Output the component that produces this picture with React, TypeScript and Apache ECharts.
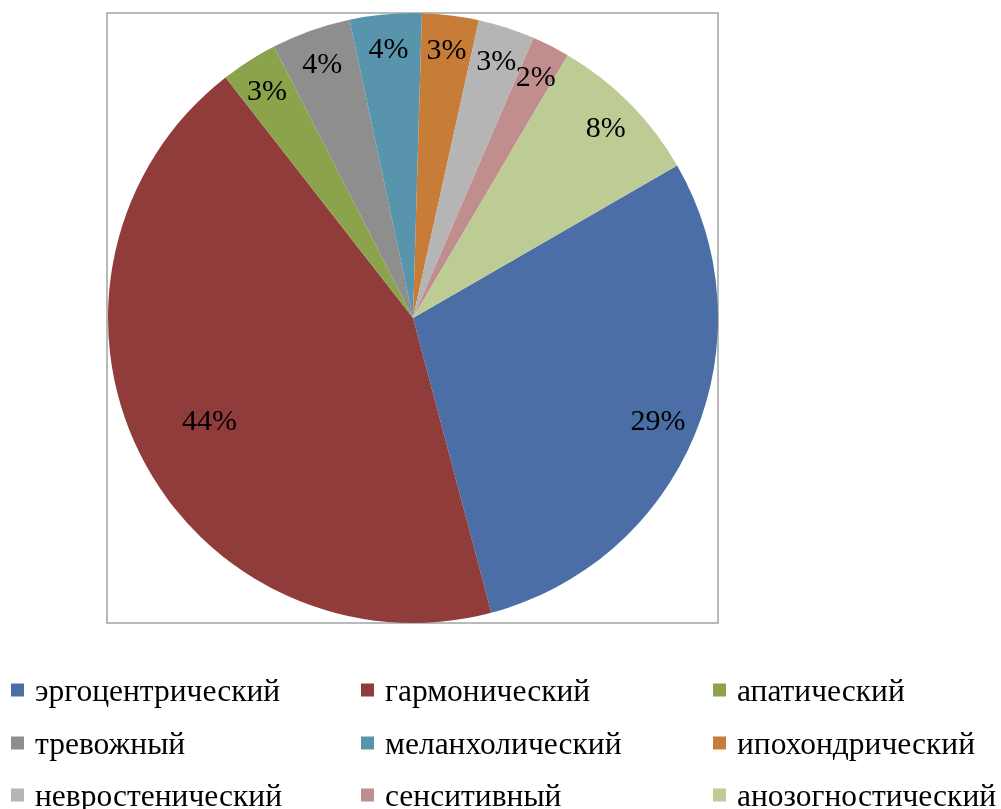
import React, { useEffect, useRef } from "react";
import * as echarts from "echarts";

const categories = [
  "эргоцентрический",
  "гармонический",
  "апатический",
  "тревожный",
  "меланхолический",
  "ипохондрический",
  "невростенический",
  "сенситивный",
  "анозогностический",
];
const values = [29.2, 43.6, 3.0, 4.2, 3.8, 3.0, 3.0, 2.0, 8.2];
const colors = [
  "#4b6ea6",
  "#8f3c3b",
  "#8ba34b",
  "#8e8e8e",
  "#5894ab",
  "#c77d38",
  "#b5b5b5",
  "#c08e8d",
  "#bdcb95",
];

const FONT = "'Liberation Serif', 'Times New Roman', serif";

export default function App() {
  const ref = useRef<HTMLDivElement>(null);
  useEffect(() => {
    if (!ref.current) return;
    const chart = echarts.init(ref.current, undefined, { renderer: "svg" });
    const cx = 413;
    const cy = 318;
    const R = 305;
    const fmt = (p: any) => Math.round(p.percent) + "%";
    const baseData = categories.map((name, i) => ({
      name,
      value: values[i],
      itemStyle: { color: colors[i] },
    }));
    const overlay = (showIdx: (i: number) => boolean) =>
      categories.map((name, i) => ({
        name,
        value: values[i],
        itemStyle: { color: "rgba(0,0,0,0)" },
        label: { show: showIdx(i) },
      }));
    const labelStyle = {
      position: "inside",
      formatter: fmt,
      fontFamily: FONT,
      fontSize: 30,
      color: "#000",
      overflow: "none",
    };
    const overlaySeries = (r0: number, show: (i: number) => boolean) => ({
      type: "pie",
      center: [cx, cy],
      radius: [r0, R],
      startAngle: 30,
      clockwise: true,
      silent: true,
      avoidLabelOverlap: false,
      label: labelStyle,
      labelLine: { show: false },
      labelLayout: { hideOverlap: false },
      emphasis: { disabled: true },
      data: overlay(show),
    });
    const colLeft = [11, 361, 713];
    const rowTop = [674, 727, 779];
    chart.setOption({
      animation: false,
      graphic: [
        {
          type: "rect",
          z: -10,
          shape: { x: 107, y: 13, width: 611, height: 610 },
          style: { fill: "#fff", stroke: "#a3a3a3", lineWidth: 1.5 },
        },
      ],
      legend: categories.map((n, i) => ({
        orient: "horizontal",
        left: colLeft[i % 3],
        top: rowTop[Math.floor(i / 3)],
        padding: 0,
        itemWidth: 13,
        itemHeight: 13,
        icon: "rect",
        selectedMode: false,
        data: [{ name: n, itemStyle: { color: colors[i] } }],
        textStyle: {
          fontFamily: FONT,
          fontSize: 31.5,
          color: "#000",
          padding: [0, 0, 0, 6],
        },
      })),
      series: [
        {
          type: "pie",
          center: [cx, cy],
          radius: [0, R],
          startAngle: 30,
          clockwise: true,
          label: { show: false },
          labelLine: { show: false },
          emphasis: { disabled: true },
          itemStyle: { borderWidth: 0 },
          data: baseData,
        },
        overlaySeries(R * 0.76, (i) => i !== 1 && i !== 0),
        overlaySeries(R * 0.72, (i) => i === 0),
        overlaySeries(R * 0.47, (i) => i === 1),
      ],
    });
    return () => chart.dispose();
  }, []);
  return (
    <div
      ref={ref}
      style={{ position: "fixed", left: 0, top: 0, width: 1001, height: 809 }}
    />
  );
}
